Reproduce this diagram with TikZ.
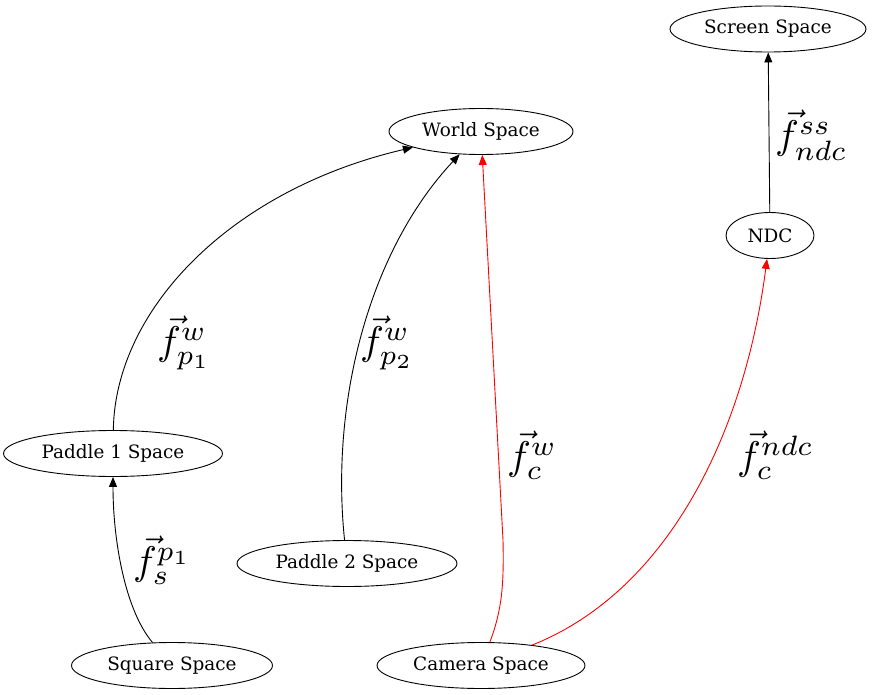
\documentclass[tikz,border=0pt]{standalone}
\usepackage{graphicx}
\usepackage{fontspec}
\setmainfont{DejaVu Serif}
\usetikzlibrary{shapes.geometric,arrows.meta}
\newcommand{\biglbl}[1]{\scalebox{4}{$#1$}}
\tikzset{
  space/.style={draw, ellipse, inner sep=0pt, line width=0.9pt,
    font=\fontsize{18.4}{20}\selectfont},
  lbl/.style={anchor=west, inner sep=0pt},
  conn/.style={line width=0.9pt, -{Triangle[length=10pt,width=8pt]}},
  redconn/.style={conn, red},
}
\begin{document}
\begin{tikzpicture}[x=1pt,y=-1pt]
\useasboundingbox (0,0) rectangle (873,695);
\node[space, minimum width=196pt, minimum height=46pt] (screen) at (768,29) {Screen Space};
\node[space, minimum width=184pt, minimum height=46pt] (world) at (481,131.5) {World Space};
\node[space, minimum width=88pt, minimum height=46pt] (ndc) at (770,235.5) {NDC};
\node[space, minimum width=219pt, minimum height=46pt] (p1) at (113,453.5) {Paddle 1 Space};
\node[space, minimum width=220pt, minimum height=46pt] (p2) at (347,563.5) {Paddle 2 Space};
\node[space, minimum width=201pt, minimum height=46pt] (square) at (172,665.5) {Square Space};
\node[space, minimum width=208pt, minimum height=46pt] (camera) at (481,665.5) {Camera Space};

\draw[conn] (p1) .. controls (115,310) and (230,190) .. (world);
\draw[conn] (p2) .. controls (330,400) and (370,250) .. (world);
\draw[redconn] (camera) .. controls (502,610) and (504,585) .. (503,540) -- (world);
\draw[redconn] (camera) .. controls (670,590) and (745,430) .. (ndc);
\draw[conn] (ndc) -- (screen);
\draw[conn] (square) .. controls (125,610) and (113,540) .. (p1);

\node[lbl] (l1) at (157,343) {\biglbl{\vec{f}^{w}_{p_1}}};
\node[lbl] (l2) at (360,343) {\biglbl{\vec{f}^{w}_{p_2}}};
\node[lbl] (l3) at (507,455) {\biglbl{\vec{f}^{w}_{c}}};
\node[lbl] (l4) at (737,455) {\biglbl{\vec{f}^{ndc}_{c}}};
\node[lbl] (l5) at (775,135) {\biglbl{\vec{f}^{ss}_{ndc}}};
\node[lbl] (l6) at (133,560) {\biglbl{\vec{f}^{p_1}_{s}}};
\end{tikzpicture}
\end{document}
